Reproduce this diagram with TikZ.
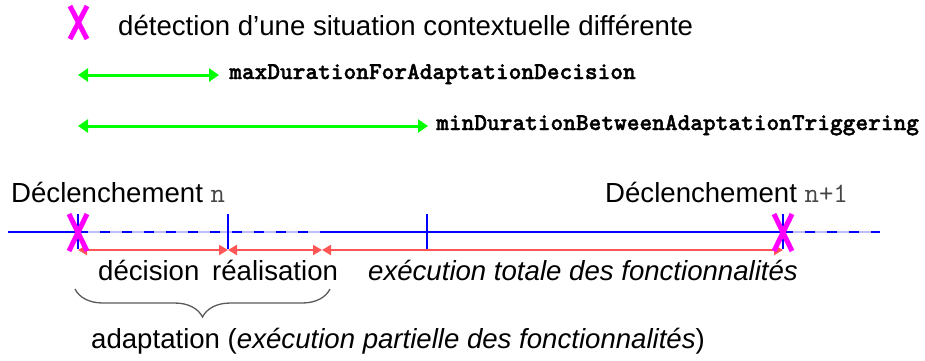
\documentclass[tikz,border=0pt]{standalone}
\usepackage{fontspec}
\setmainfont{Liberation Sans}
\newfontfamily\monobf{lmmonolt10-bold.otf}[FakeBold=1.6]
\usetikzlibrary{arrows.meta,decorations.pathreplacing}
\definecolor{tlblue}{RGB}{0,0,255}
\definecolor{paleblue}{RGB}{190,190,255}
\definecolor{redarr}{RGB}{255,85,85}
\definecolor{magx}{RGB}{255,0,255}
\definecolor{greenarr}{RGB}{0,255,0}
\definecolor{bracegray}{RGB}{90,90,90}
\definecolor{monogray}{RGB}{70,70,70}
\newcommand{\monon}[1]{{\ttfamily\mdseries\fontsize{28}{32}\selectfont\color{monogray}#1}}
\tikzset{
  lbl/.style={inner sep=0pt, anchor=base west, font=\fontsize{27.6}{32}\selectfont},
  ilbl/.style={lbl, font=\fontsize{27.6}{32}\selectfont\itshape},
  monolbl/.style={inner sep=0pt, anchor=base west, font=\monobf\fontsize{24.2}{30}\selectfont},
  tlsolid/.style={draw=tlblue, line width=2pt},
  tlpale/.style={draw=paleblue, line width=1.2pt},
  tldash/.style={draw=tlblue, line width=2.5pt, dash pattern=on 10pt off 12pt},
  tickmark/.style={draw=tlblue, line width=2.5pt},
  xmark/.style={draw=magx, line width=5pt},
  redspan/.style={draw=redarr, line width=2pt, {Triangle[length=9pt,width=10pt]}-{Triangle[length=9pt,width=10pt]}},
  greenspan/.style={draw=greenarr, line width=3pt, {Triangle[length=10pt,width=13pt]}-{Triangle[length=10pt,width=13pt]}},
  bracemark/.style={draw=bracegray, line width=1.3pt, decorate, decoration={brace, amplitude=28pt}}
}
\begin{document}
\begin{tikzpicture}[x=1pt,y=-1pt]
\useasboundingbox (0,0) rectangle (925,360);

% legend X
\coordinate (lx1) at (70,6);
\coordinate (lx2) at (87,39);
\coordinate (lx3) at (87,6);
\coordinate (lx4) at (70,39);
\draw[xmark] (lx1) -- (lx2) (lx3) -- (lx4);
\node[lbl] (legend) at (118,35) {détection d’une situation contextuelle différente};

% green spans
\coordinate (g1a) at (78,75);
\coordinate (g1b) at (219,75);
\draw[greenspan] (g1a) -- (g1b);
\node[monolbl] (maxd) at (229,79) {maxDurationForAdaptationDecision};
\coordinate (g2a) at (78,126);
\coordinate (g2b) at (428,126);
\draw[greenspan] (g2a) -- (g2b);
\node[monolbl] (mind) at (436,130) {minDurationBetweenAdaptationTriggering};

% trigger labels
\node[lbl] (declA) at (11,202) {Déclenchement \monon{n}};
\node[lbl] (declB) at (605,202) {Déclenchement \monon{n+1}};

% timeline
\coordinate (t0) at (8,232);
\coordinate (tA) at (78,232);
\coordinate (tB) at (228,232);
\coordinate (tC) at (322,232);
\coordinate (tD) at (427,232);
\coordinate (tE) at (783,232);
\coordinate (tF) at (880,232);
\draw[tlsolid] (t0) -- (tA);
\draw[tlpale] (tA) -- (tC);
\draw[tldash] (tA) -- (tC);
\draw[tlsolid] (tC) -- (tE);
\draw[tlpale] (tE) -- (tF);
\draw[tldash] (tE) -- (tF);

% ticks
\foreach \p in {tA,tB,tD,tE}{
  \draw[tickmark] ([yshift=-17pt]\p) -- ([yshift=18pt]\p);
}

% red spans
\coordinate (rA) at (78,250);
\coordinate (rB) at (228,250);
\coordinate (rC) at (322,250);
\coordinate (rE) at (783,250);
\draw[redspan] (rA) -- (rB);
\draw[redspan] (rB) -- (rC);
\draw[redspan] (rC) -- (rE);

% timeline X marks
\coordinate (xa1) at (69,214);
\coordinate (xa2) at (87,251);
\coordinate (xa3) at (87,214);
\coordinate (xa4) at (69,251);
\draw[xmark] (xa1) -- (xa2) (xa3) -- (xa4);
\coordinate (xb1) at (774,214);
\coordinate (xb2) at (792,251);
\coordinate (xb3) at (792,214);
\coordinate (xb4) at (774,251);
\draw[xmark] (xb1) -- (xb2) (xb3) -- (xb4);

% phase labels
\node[lbl] (dec) at (98,280) {décision};
\node[lbl] (rea) at (212,280) {réalisation};
\node[ilbl] (exe) at (368,280) {exécution totale des fonctionnalités};

% brace
\coordinate (brR) at (330,289);
\coordinate (brL) at (75,289);
\draw[bracemark] (brR) -- (brL);
\node[lbl] (adapt) at (91,348) {adaptation (\textit{exécution partielle des fonctionnalités})};
\end{tikzpicture}
\end{document}
